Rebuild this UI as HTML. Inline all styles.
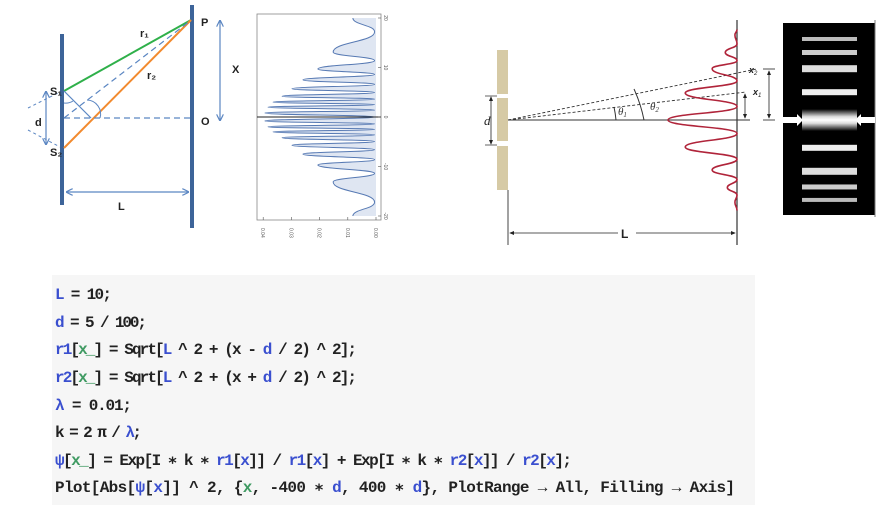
<!DOCTYPE html>
<html><head><meta charset="utf-8"><style>
html,body{margin:0;padding:0;background:#fff;}
svg{display:block;}
.code{font-family:"Liberation Mono",monospace;font-size:16px;font-weight:600;fill:#222;}
.b{fill:#3a4fcf;}.g{fill:#3f9a62;}
.lbl{font-family:"Liberation Sans",sans-serif;font-weight:bold;font-size:11px;fill:#222;}
.tk{font-family:"Liberation Sans",sans-serif;font-size:5px;fill:#555;}
</style></head><body>
<svg id="root" width="887" height="515" viewBox="0 0 887 515" xmlns="http://www.w3.org/2000/svg">
<defs>
<marker id="ab" markerWidth="6" markerHeight="6" refX="5" refY="3" orient="auto-start-reverse"><path d="M0,0 L6,3 L0,6" fill="none" stroke="#5b86c2" stroke-width="1"/></marker>
<marker id="ak" markerWidth="6" markerHeight="6" refX="5" refY="3" orient="auto-start-reverse"><path d="M0,0.5 L6,3 L0,5.5 z" fill="#222"/></marker>
<linearGradient id="cg" x1="0" y1="0" x2="0" y2="1"><stop offset="0" stop-color="#000"/><stop offset="0.35" stop-color="#ddd"/><stop offset="0.5" stop-color="#fff"/><stop offset="0.65" stop-color="#ddd"/><stop offset="1" stop-color="#000"/></linearGradient>
</defs>

<g>
<rect x="60" y="34" width="4" height="171" fill="#3d6499"/>
<rect x="190" y="5" width="4" height="223" fill="#3d6499"/>
<line x1="64" y1="91" x2="191" y2="20" stroke="#2fb04a" stroke-width="2"/>
<line x1="64" y1="148" x2="191" y2="20" stroke="#f28a2e" stroke-width="2"/>
<line x1="64" y1="118" x2="190" y2="118" stroke="#5b86c2" stroke-width="1.2" stroke-dasharray="6,4"/>
<line x1="64" y1="118" x2="190" y2="21" stroke="#5b86c2" stroke-width="1.2" stroke-dasharray="6,4"/>
<line x1="64" y1="91" x2="91" y2="118" stroke="#5b86c2" stroke-width="1.2"/>
<path d="M64,103 A13,13 0 0 0 73,101" fill="none" stroke="#5b86c2" stroke-width="1"/>
<path d="M87,100 A14,14 0 0 1 100,118" fill="none" stroke="#5b86c2" stroke-width="1"/>
<line x1="28" y1="108" x2="60" y2="92" stroke="#5b86c2" stroke-width="1" stroke-dasharray="3,3"/>
<line x1="28" y1="130" x2="60" y2="147" stroke="#5b86c2" stroke-width="1" stroke-dasharray="3,3"/>
<line x1="46" y1="92" x2="46" y2="144" stroke="#5b86c2" stroke-width="1.2" marker-start="url(#ab)" marker-end="url(#ab)"/>
<line x1="67" y1="192" x2="188" y2="192" stroke="#5b86c2" stroke-width="1.2" marker-start="url(#ab)" marker-end="url(#ab)"/>
<line x1="220" y1="21" x2="220" y2="120" stroke="#5b86c2" stroke-width="1.2" marker-start="url(#ab)" marker-end="url(#ab)"/>
<text class="lbl" x="201" y="26">P</text>
<text class="lbl" x="201" y="125">O</text>
<text class="lbl" x="232" y="73">X</text>
<text class="lbl" x="140" y="37" font-size="8" font-weight="normal">r₁</text>
<text class="lbl" x="147" y="79" font-size="8" font-weight="normal">r₂</text>
<text class="lbl" x="50" y="95" font-size="9">S₁</text>
<text class="lbl" x="50" y="156" font-size="9">S₂</text>
<text class="lbl" x="35" y="126">d</text>
<text class="lbl" x="118" y="210" font-size="12">L</text>
</g>

<g id="midplot">
<rect x="257" y="14" width="124" height="206" fill="#fff" stroke="#888" stroke-width="0.8"/>
</g>

<g id="rightdiag">
<rect x="497" y="50" width="11" height="44" fill="#d6caa5"/>
<rect x="497" y="98" width="11" height="43" fill="#d6caa5"/>
<rect x="497" y="146" width="11" height="44" fill="#d6caa5"/>
<line x1="508" y1="190" x2="508" y2="245" stroke="#444" stroke-width="1"/>
<line x1="491" y1="97" x2="491" y2="144" stroke="#222" stroke-width="0.8" marker-start="url(#ak)" marker-end="url(#ak)"/>
<line x1="485" y1="96" x2="497" y2="96" stroke="#222" stroke-width="0.7"/>
<line x1="485" y1="145" x2="497" y2="145" stroke="#222" stroke-width="0.7"/>
<text x="484" y="125" font-family="Liberation Serif,serif" font-style="italic" font-size="13" fill="#222">d</text>
<line x1="737" y1="20" x2="737" y2="245" stroke="#333" stroke-width="1.2"/>
<line x1="508" y1="120" x2="750" y2="120" stroke="#333" stroke-width="1"/>
<line x1="508" y1="120" x2="757" y2="69" stroke="#333" stroke-width="0.9" stroke-dasharray="3,2"/>
<line x1="508" y1="120" x2="746" y2="92" stroke="#333" stroke-width="0.9" stroke-dasharray="3,2"/>
<path d="M614,107 A106,106 0 0 1 616,120" fill="none" stroke="#333" stroke-width="1"/>
<path d="M634,89 A140,140 0 0 1 644,120" fill="none" stroke="#333" stroke-width="1"/>
<text x="618" y="115" font-family="Liberation Serif,serif" font-style="italic" font-size="11" fill="#333">θ<tspan font-size="7" dy="2">1</tspan></text>
<text x="650" y="110" font-family="Liberation Serif,serif" font-style="italic" font-size="11" fill="#333">θ<tspan font-size="7" dy="2">2</tspan></text>
<text x="749" y="73" font-family="Liberation Sans,sans-serif" font-weight="bold" font-style="italic" font-size="9" fill="#222">x<tspan font-size="6" dy="2" font-weight="normal">2</tspan></text>
<text x="753" y="95" font-family="Liberation Sans,sans-serif" font-weight="bold" font-style="italic" font-size="9" fill="#222">x<tspan font-size="6" dy="2" font-weight="normal">1</tspan></text>
<line x1="745" y1="94" x2="745" y2="118" stroke="#222" stroke-width="0.8" marker-start="url(#ak)" marker-end="url(#ak)"/>
<line x1="769" y1="71" x2="769" y2="118" stroke="#222" stroke-width="0.8" marker-start="url(#ak)" marker-end="url(#ak)"/>
<line x1="763" y1="69" x2="775" y2="69" stroke="#222" stroke-width="0.8"/>
<line x1="763" y1="120" x2="775" y2="120" stroke="#222" stroke-width="0.8"/>
<line x1="510" y1="233" x2="618" y2="233" stroke="#222" stroke-width="0.8" marker-start="url(#ak)"/>
<line x1="636" y1="233" x2="735" y2="233" stroke="#222" stroke-width="0.8" marker-end="url(#ak)"/>
<text x="621" y="238" font-family="Liberation Sans,sans-serif" font-weight="bold" font-size="12" fill="#222">L</text>
<rect x="783" y="23" width="92" height="192" fill="#000"/>
<line x1="875" y1="20" x2="875" y2="217" stroke="#777" stroke-width="1"/>
<path d="M783,117 L797,117 L797,114 L803,120 L797,126 L797,123 L783,123 z" fill="#fff"/>
<path d="M875,117 L861,117 L861,114 L855,120 L861,126 L861,123 L875,123 z" fill="#fff"/>
</g>

<g>
<rect x="52" y="275" width="703" height="230" fill="#f6f6f6"/>
<text class="code" x="55" y="299" textLength="57" lengthAdjust="spacing"><tspan class="b">L</tspan> = 10;</text>
<text class="code" x="55" y="327" textLength="92" lengthAdjust="spacing"><tspan class="b">d</tspan> = 5 / 100;</text>
<text class="code" x="55" y="354" textLength="302" lengthAdjust="spacing"><tspan class="b">r1</tspan>[<tspan class="g">x_</tspan>] = Sqrt[<tspan class="b">L</tspan> ^ 2 + (x - <tspan class="b">d</tspan> / 2) ^ 2];</text>
<text class="code" x="55" y="382" textLength="302" lengthAdjust="spacing"><tspan class="b">r2</tspan>[<tspan class="g">x_</tspan>] = Sqrt[<tspan class="b">L</tspan> ^ 2 + (x + <tspan class="b">d</tspan> / 2) ^ 2];</text>
<text class="code" x="55" y="410" textLength="77" lengthAdjust="spacing"><tspan class="b">λ</tspan> = 0.01;</text>
<text class="code" x="55" y="437" textLength="87" lengthAdjust="spacing">k = 2 π / <tspan class="b">λ</tspan>;</text>
<text class="code" x="55" y="465" textLength="517" lengthAdjust="spacing"><tspan class="b">ψ</tspan>[<tspan class="g">x_</tspan>] = Exp[I ∗ k ∗ <tspan class="b">r1</tspan>[<tspan class="b">x</tspan>]] / <tspan class="b">r1</tspan>[<tspan class="b">x</tspan>] + Exp[I ∗ k ∗ <tspan class="b">r2</tspan>[<tspan class="b">x</tspan>]] / <tspan class="b">r2</tspan>[<tspan class="b">x</tspan>];</text>
<text class="code" x="55" y="492" textLength="680" lengthAdjust="spacing">Plot[Abs[<tspan class="b">ψ</tspan>[<tspan class="b">x</tspan>]] ^ 2, {<tspan class="g">x</tspan>, -400 ∗ <tspan class="b">d</tspan>, 400 ∗ <tspan class="b">d</tspan>}, PlotRange → All, Filling → Axis]</text>
</g>
</svg>
<script>
const midX = [-20,-17.2,-13.1,-11.4,-9.7,-8.6,-7.5,-6.6,-5.7,-4.95,-4.2,-3.6,-3.0,-2.5,-2.0,-1.4,-0.8,0,0.8,1.4,2.0,2.5,3.0,3.6,4.2,4.95,5.7,6.6,7.5,8.6,9.7,11.4,13.1,17.2,20];
const midI = [0.0082,0.0005,0.0152,0.0005,0.0206,0.0005,0.0259,0.0005,0.0298,0.0005,0.0333,0.0005,0.0365,0.0005,0.0383,0.0005,0.0394,0.0005,0.0394,0.0005,0.0383,0.0005,0.0365,0.0005,0.0333,0.0005,0.0298,0.0005,0.0259,0.0005,0.0206,0.0005,0.0152,0.0005,0.0082];
const midYTicks = [-20,-10,0,10,20];
const midITicks = [0.04,0.03,0.02,0.01,0.00];
const rightPos = [3.35,3.15,2.82,2.5,2.2,1.9,1.45,1.0,0.5,0,-0.5,-1.0,-1.45,-1.85,-2.2,-2.5,-2.78,-3.05,-3.35];
const rightI = [0,0.03,0,0.17,0,0.36,0,0.75,0,1,0,0.75,0,0.36,0,0.14,0,0.03,0];
const barPos = [3.0,2.5,1.9,1.03,0,-1.03,-1.9,-2.48,-2.96];
const barH = [4,5,7,6,22,6,7,5,4];
const barShade = ['#bbb','#ccc','#ddd','#eee','grad','#eee','#ddd','#ccc','#bbb'];

const NS='http://www.w3.org/2000/svg';
const yMid = x => 117 - x*4.95;
const xMid = I => 376 - I*2820;
const yR = p => 120 - p*27;
const xR = I => 737 - I*69;

function smoothPath(ps){
  let d='M'+ps[0][0]+','+ps[0][1];
  for(let i=1;i<ps.length;i++){
    const [x0,y0]=ps[i-1],[x1,y1]=ps[i];const h=(y1-y0)/2;
    d+=' C'+x0+','+(y0+h)+' '+x1+','+(y1-h)+' '+x1+','+y1;
  }
  return d;
}
const mid=document.getElementById('midplot');
const mp=midX.map((x,i)=>[xMid(midI[i]),yMid(x)]).sort((a,b)=>a[1]-b[1]);
const mline=smoothPath(mp);
const fill=document.createElementNS(NS,'path');
fill.setAttribute('d',mline+' L'+xMid(0)+','+mp[mp.length-1][1]+' L'+xMid(0)+','+mp[0][1]+' Z');
fill.setAttribute('fill','#dfe6f2');


mid.appendChild(fill);
const ml=document.createElementNS(NS,'path');
ml.setAttribute('d',mline);ml.setAttribute('fill','none');ml.setAttribute('stroke','#5679b3');ml.setAttribute('stroke-width','1');


mid.appendChild(ml);
const ax=document.createElementNS(NS,'line');
ax.setAttribute('x1',257);ax.setAttribute('x2',381);ax.setAttribute('y1',yMid(0));ax.setAttribute('y2',yMid(0));ax.setAttribute('stroke','#222');ax.setAttribute('stroke-width','1');


mid.appendChild(ax);
midYTicks.forEach(v=>{
  const t=document.createElementNS(NS,'text');
  t.setAttribute('class','tk');t.setAttribute('x',384);t.setAttribute('y',yMid(v));
  t.setAttribute('transform','rotate(90 384 '+yMid(v)+')');t.setAttribute('text-anchor','middle');
  t.textContent=String(v);
  
  
  mid.appendChild(t);
  const l=document.createElementNS(NS,'line');
  l.setAttribute('x1',378);l.setAttribute('x2',381);l.setAttribute('y1',yMid(v));l.setAttribute('y2',yMid(v));l.setAttribute('stroke','#555');l.setAttribute('stroke-width','0.6');
  
  
  mid.appendChild(l);
});
midITicks.forEach(v=>{
  const x=xMid(v);
  const t=document.createElementNS(NS,'text');
  t.setAttribute('class','tk');t.setAttribute('x',x+2);t.setAttribute('y',224);
  t.setAttribute('transform','rotate(90 '+(x-2)+' 224)');
  t.textContent=v.toFixed(2);
  
  
  mid.appendChild(t);
  const l=document.createElementNS(NS,'line');
  l.setAttribute('x1',x);l.setAttribute('x2',x);l.setAttribute('y1',217);l.setAttribute('y2',220);l.setAttribute('stroke','#555');l.setAttribute('stroke-width','0.6');
  
  
  mid.appendChild(l);
});

const rd=document.getElementById('rightdiag');
const rp=rightPos.map((p,i)=>[xR(rightI[i]),yR(p)]).sort((a,b)=>a[1]-b[1]);
const rl=document.createElementNS(NS,'path');
rl.setAttribute('d',smoothPath(rp));rl.setAttribute('fill','none');rl.setAttribute('stroke','#b0243a');rl.setAttribute('stroke-width','1.6');


rd.appendChild(rl);
barPos.forEach((p,i)=>{
  const r=document.createElementNS(NS,'rect');
  r.setAttribute('x',802);r.setAttribute('width',55);
  r.setAttribute('y',yR(p)-barH[i]/2);r.setAttribute('height',barH[i]);
  r.setAttribute('fill',barShade[i]==='grad'?'url(#cg)':barShade[i]);
  
  
  rd.appendChild(r);
});
</script>
</body></html>
